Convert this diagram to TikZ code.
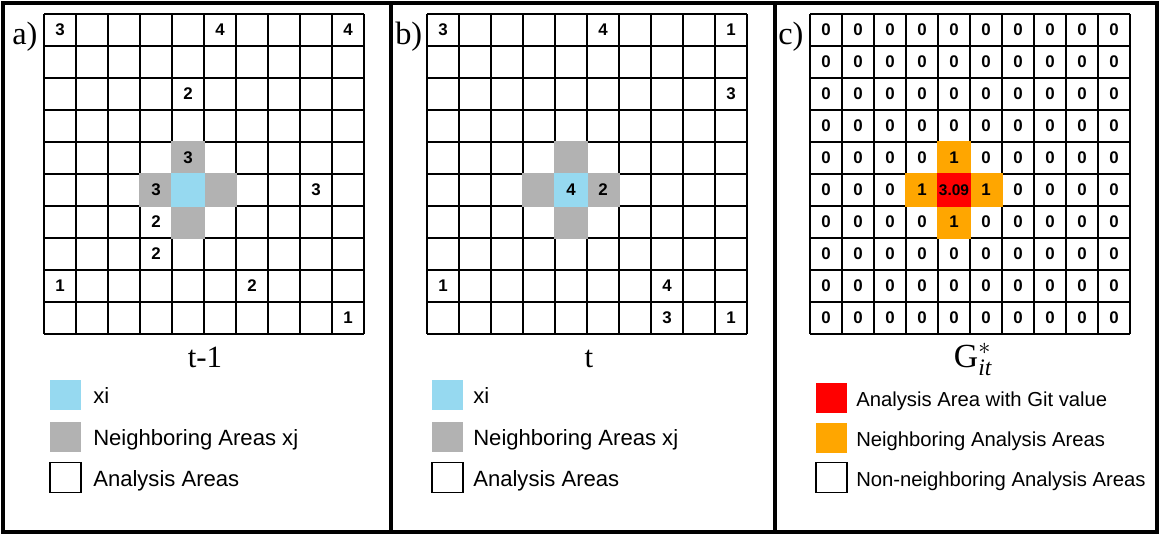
\documentclass[tikz,border=0pt]{standalone}
\usepackage{amsmath}
\usepackage{fontspec}
\setmainfont{Liberation Serif}
\setsansfont{Liberation Sans}
\definecolor{xiblue}{RGB}{150,217,240}
\definecolor{nbgray}{RGB}{178,178,178}
\definecolor{gitred}{RGB}{255,0,0}
\definecolor{nborange}{RGB}{255,166,0}
\tikzset{
  cellline/.style={line width=1.1pt},
  frameline/.style={line width=2.6pt},
  num/.style={font=\sffamily\bfseries\fontsize{12}{13}\selectfont, inner sep=0pt},
  panellabel/.style={font=\fontsize{23}{25}\selectfont, inner sep=0pt, anchor=base west},
  caption/.style={font=\fontsize{22}{24}\selectfont, inner sep=0pt, anchor=base},
  keybox/.style={minimum width=0.775cm, minimum height=0.75cm, inner sep=0pt},
  keytext/.style={font=\sffamily\fontsize{15.7}{17}\selectfont, inner sep=0pt, anchor=base west},
  smallkeytext/.style={keytext, font=\sffamily\fontsize{14.4}{16}\selectfont}
}

\begin{document}
\begin{tikzpicture}[x=0.025cm, y=-0.025cm]
        \useasboundingbox (0,0) rectangle (1161,535);

        % Frames
        \draw[frameline] (3,3) rectangle (1157,532);
        \draw[frameline] (391,3) -- (391,532);
        \draw[frameline] (775,3) -- (775,532);

        % Panel a: time t-1
        \node[panellabel] (laba) at (12,44) {a)};
        \begin{scope}[shift={(44,14)}]
            \foreach \k in {0,...,10} {
              \draw[cellline] (32*\k,0) -- (32*\k,320);
              \draw[cellline] (0,32*\k) -- (320,32*\k);
            }
            \foreach \r/\c in {4/4,5/3,5/5,6/4} {
              \fill[nbgray] (32*\c-0.8,32*\r-0.8) rectangle (32*\c+32.8,32*\r+32.8);
            }
            \fill[xiblue] (127.2,159.2) rectangle (160.8,192.8);
            \foreach \r/\c/\v [count=\i] in {0/0/3,0/5/4,0/9/4,2/4/2,4/4/3,5/3/3,5/8/3,
                                             6/3/2,7/3/2,8/0/1,8/6/2,9/9/1} {
              \node[num] (a\i) at (32*\c+16,32*\r+16) {\v};
            }
        \end{scope}
        \node[caption] (capa) at (205,367) {t-1};
        \node[keybox, fill=xiblue] (keya1) at (65.5,395) {};
        \node[keybox, fill=nbgray] (keya2) at (65.5,436.5) {};
        \node[keybox, draw, line width=1.2pt] (keya3) at (65.5,477.5) {};
        \node[keytext] (txta1) at (93,403.5) {xi};
        \node[keytext] (txta2) at (93,445) {Neighboring Areas xj};
        \node[keytext] (txta3) at (93,486) {Analysis Areas};

        % Panel b: time t
        \node[panellabel] (labb) at (395,44) {b)};
        \begin{scope}[shift={(427,14)}]
            \foreach \k in {0,...,10} {
              \draw[cellline] (32*\k,0) -- (32*\k,320);
              \draw[cellline] (0,32*\k) -- (320,32*\k);
            }
            \foreach \r/\c in {4/4,5/3,5/5,6/4} {
              \fill[nbgray] (32*\c-0.8,32*\r-0.8) rectangle (32*\c+32.8,32*\r+32.8);
            }
            \fill[xiblue] (127.2,159.2) rectangle (160.8,192.8);
            \foreach \r/\c/\v [count=\i] in {0/0/3,0/5/4,0/9/1,2/9/3,5/4/4,5/5/2,
                                             8/0/1,8/7/4,9/7/3,9/9/1} {
              \node[num] (b\i) at (32*\c+16,32*\r+16) {\v};
            }
        \end{scope}
        \node[caption] (capb) at (589,367) {t};
        \node[keybox, fill=xiblue] (keyb1) at (447.5,395) {};
        \node[keybox, fill=nbgray] (keyb2) at (447.5,436.5) {};
        \node[keybox, draw, line width=1.2pt] (keyb3) at (447.5,477.5) {};
        \node[keytext] (txtb1) at (473,403.5) {xi};
        \node[keytext] (txtb2) at (473,445) {Neighboring Areas xj};
        \node[keytext] (txtb3) at (473,486) {Analysis Areas};

        % Panel c: Gi* statistic
        \node[panellabel] (labc) at (778,44) {c)};
        \begin{scope}[shift={(810,14)}]
            \foreach \k in {0,...,10} {
              \draw[cellline] (32*\k,0) -- (32*\k,320);
              \draw[cellline] (0,32*\k) -- (320,32*\k);
            }
            \foreach \r/\c in {4/4,5/3,5/5,6/4} {
              \fill[nborange] (32*\c-0.8,32*\r-0.8) rectangle (32*\c+32.8,32*\r+32.8);
              \node[num] (c\r\c) at (32*\c+16,32*\r+16) {1};
            }
            \fill[gitred] (127.2,159.2) rectangle (160.8,192.8);
            \node[num, font=\sffamily\bfseries\fontsize{11}{12}\selectfont] (cgit) at (144,176) {3.09};
            \foreach \r in {0,...,9} {
              \foreach \c in {0,...,9} {
                \pgfmathtruncatemacro{\dd}{abs(\r-5)+abs(\c-4)}
                \ifnum\dd>1
                  \node[num] (c\r\c) at (32*\c+16,32*\r+16) {0};
                \fi
              }
            }
        \end{scope}
        \node[caption, font=\fontsize{24}{26}\selectfont] (capc) at (973,367) {G$^{*}_{\textit{it}}$};
        \node[keybox, fill=gitred] (keyc1) at (831.5,397.5) {};
        \node[keybox, fill=nborange] (keyc2) at (831.5,438) {};
        \node[keybox, draw, line width=1.2pt] (keyc3) at (831.5,477.5) {};
        \node[smallkeytext] (txtc1) at (856,406) {Analysis Area with Git value};
        \node[smallkeytext] (txtc2) at (856,446.5) {Neighboring Analysis Areas};
        \node[smallkeytext] (txtc3) at (856,486) {Non-neighboring Analysis Areas};
\end{tikzpicture}
\end{document}
